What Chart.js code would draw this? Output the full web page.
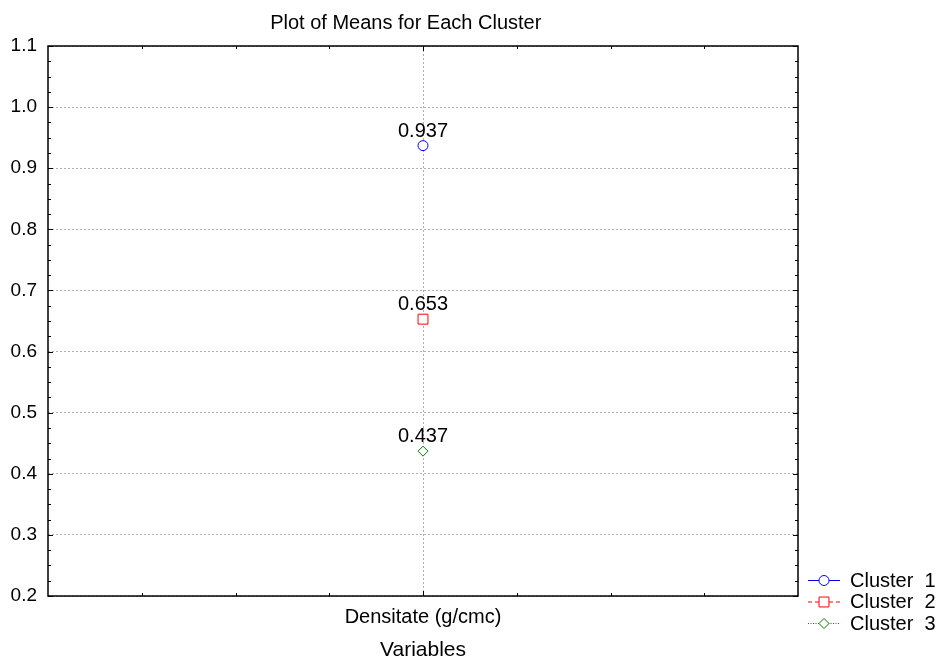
<!DOCTYPE html>
<html>
<head>
<meta charset="utf-8">
<title>Plot of Means for Each Cluster</title>
<script src="https://cdn.jsdelivr.net/npm/chart.js@4/dist/chart.umd.min.js"></script>
<style>
  html, body { margin: 0; padding: 0; background: #fff; }
  #wrap { width: 939px; height: 659px; position: relative; }
</style>
</head>
<body>
<div id="wrap"><canvas id="meansChart"></canvas></div>
<script>
const categories = ['Densitate (g/cmc)'];
const clusterNames = ['Cluster  1', 'Cluster  2', 'Cluster  3'];
const clusterMeans = [0.937, 0.653, 0.437];
const yTickValues = [0.2, 0.3, 0.4, 0.5, 0.6, 0.7, 0.8, 0.9, 1.0, 1.1];

const chartTitle = 'Plot of Means for Each Cluster';
const xAxisTitle = 'Variables';

const FONT = 'Arial, "Liberation Sans", sans-serif';
const colors = ['#0000ff', '#ff0000', '#008000'];
const styles = ['circle', 'rect', 'rectRot'];
const radii = [5, 7, 5];
const dashes = [[], [4, 3], [1, 1.5]];

const datasets = clusterNames.map((name, i) => ({
  label: name,
  data: [clusterMeans[i]],
  showLine: false,
  pointStyle: styles[i],
  pointRadius: radii[i],
  pointHoverRadius: radii[i],
  pointBorderWidth: 1,
  pointBackgroundColor: '#fff',
  borderColor: colors[i],
  backgroundColor: colors[i],
  lineDash: dashes[i]
}));

function marker(ctx, style, x, y, r) {
  ctx.beginPath();
  if (style === 'circle') {
    ctx.arc(x, y, r, 0, Math.PI * 2);
  } else if (style === 'rect') {
    const s = r * Math.SQRT1_2;
    ctx.rect(x - s, y - s, 2 * s, 2 * s);
  } else {
    ctx.moveTo(x, y - r);
    ctx.lineTo(x + r, y);
    ctx.lineTo(x, y + r);
    ctx.lineTo(x - r, y);
    ctx.closePath();
  }
  ctx.fillStyle = '#fff';
  ctx.fill();
  ctx.stroke();
}

// frame, inward ticks, titles, value labels and legend
const decorations = {
  id: 'decorations',
  afterDatasetsDraw(chart) {
    const ctx = chart.ctx;
    const a = chart.chartArea;
    const y = chart.scales.y;
    ctx.save();

    // frame
    ctx.strokeStyle = '#000';
    ctx.lineWidth = 1.5;
    ctx.strokeRect(a.left, a.top, a.right - a.left, a.bottom - a.top);

    // y ticks on left and right (minor every 0.025)
    ctx.lineWidth = 1;
    for (let k = 0; k <= 36; k++) {
      const v = 0.2 + k * 0.025;
      const py = Math.round(y.getPixelForValue(v)) + 0.5;
      const len = k % 4 === 0 ? 5 : 3;
      ctx.beginPath();
      ctx.moveTo(a.left, py); ctx.lineTo(a.left + len, py);
      ctx.moveTo(a.right, py); ctx.lineTo(a.right - len, py);
      ctx.stroke();
    }
    // x ticks on top and bottom
    const w = a.right - a.left;
    for (let k = 1; k < 8; k++) {
      const px = Math.round(a.left + w * k / 8) + 0.5;
      const len = k === 4 ? 5 : 3;
      ctx.beginPath();
      ctx.moveTo(px, a.bottom); ctx.lineTo(px, a.bottom - len);
      ctx.moveTo(px, a.top); ctx.lineTo(px, a.top + len);
      ctx.stroke();
    }

    // chart title and x axis title
    ctx.fillStyle = '#000';
    ctx.textAlign = 'center';
    ctx.textBaseline = 'middle';
    ctx.font = '20px ' + FONT;
    ctx.fillText(chartTitle, a.left + (a.right - a.left) * 0.477, 23);
    ctx.font = '21px ' + FONT;
    ctx.fillText(xAxisTitle, (a.left + a.right) / 2, 650);

    // value labels above each mean
    ctx.font = '20px ' + FONT;
    ctx.textBaseline = 'alphabetic';
    chart.data.datasets.forEach((ds, i) => {
      const pt = chart.getDatasetMeta(i).data[0];
      ctx.fillText(ds.data[0].toFixed(3), pt.x, pt.y - 9);
    });

    // legend
    const lx = a.right + 10;
    ctx.textAlign = 'left';
    ctx.textBaseline = 'middle';
    chart.data.datasets.forEach((ds, i) => {
      const ly = a.bottom - 16 + i * 21.5;
      ctx.strokeStyle = ds.borderColor;
      ctx.lineWidth = 1;
      ctx.setLineDash(ds.lineDash);
      ctx.beginPath();
      ctx.moveTo(lx, ly + 0.5); ctx.lineTo(lx + 32, ly + 0.5);
      ctx.stroke();
      ctx.setLineDash([]);
      marker(ctx, ds.pointStyle, lx + 16, ly + 0.5, ds.pointRadius);
      ctx.fillStyle = '#000';
      ctx.fillText(ds.label, lx + 42, ly + 1);
    });

    ctx.restore();
  }
};

new Chart(document.getElementById('meansChart'), {
  type: 'line',
  data: { labels: categories, datasets: datasets },
  options: {
    responsive: true,
    maintainAspectRatio: false,
    animation: false,
    events: [],
    layout: { padding: { top: 46, right: 141, left: 0, bottom: 0 } },
    plugins: { legend: { display: false }, title: { display: false }, tooltip: { enabled: false } },
    scales: {
      x: {
        type: 'category',
        offset: true,
        afterFit(scale) { scale.height = 63; },
        grid: { color: '#b0b0b0', lineWidth: 1, drawTicks: false },
        border: { display: false, dash: [2, 2] },
        ticks: { color: '#000', font: { size: 20, family: FONT }, padding: 9 }
      },
      y: {
        min: 0.2,
        max: 1.1,
        afterFit(scale) { scale.width = 48; },
        afterBuildTicks(scale) { scale.ticks = yTickValues.map(v => ({ value: v })); },
        grid: { color: '#b0b0b0', lineWidth: 1, drawTicks: false },
        border: { display: false, dash: [2, 2] },
        ticks: {
          color: '#000',
          font: { size: 19, family: FONT },
          padding: 11,
          callback: v => Number(v).toFixed(1)
        }
      }
    }
  },
  plugins: [decorations]
});
</script>
</body>
</html>
